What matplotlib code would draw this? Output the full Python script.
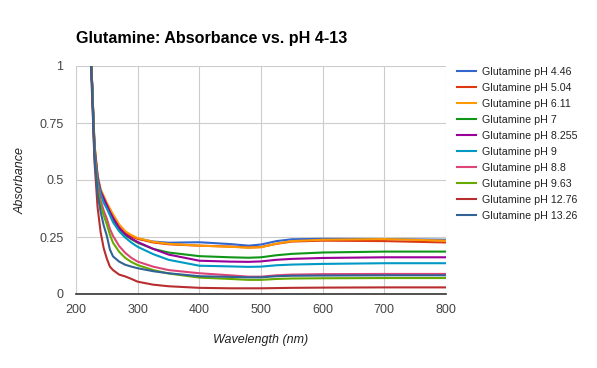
import numpy as np
from matplotlib import pyplot as plt

plt.rcParams['font.family'] = ['Liberation Sans', 'DejaVu Sans']

# wavelength grid (nm) the curves were read at
wl = [220, 225, 230, 235, 240, 245, 250, 255, 260, 270, 280, 290, 300, 325, 350,
      400, 450, 480, 500, 525, 550, 600, 700, 800]

labels = ['Glutamine pH 4.46', 'Glutamine pH 5.04', 'Glutamine pH 6.11', 'Glutamine pH 7',
          'Glutamine pH 8.255', 'Glutamine pH 9', 'Glutamine pH 8.8', 'Glutamine pH 9.63',
          'Glutamine pH 12.76', 'Glutamine pH 13.26']

ph446 = [1.3, 1.0, 0.65, 0.52, 0.45, 0.42, 0.39, 0.365, 0.34, 0.30, 0.27, 0.255, 0.243, 0.230, 0.225,
         0.227, 0.219, 0.212, 0.217, 0.232, 0.240, 0.242, 0.241, 0.238]
ph504 = [1.3, 1.0, 0.65, 0.51, 0.44, 0.41, 0.38, 0.355, 0.33, 0.295, 0.268, 0.252, 0.242, 0.226, 0.218,
         0.212, 0.208, 0.204, 0.206, 0.220, 0.230, 0.234, 0.232, 0.226]
ph611 = [1.3, 1.0, 0.66, 0.52, 0.46, 0.43, 0.40, 0.375, 0.35, 0.305, 0.275, 0.258, 0.245, 0.229, 0.220,
         0.212, 0.207, 0.203, 0.205, 0.221, 0.232, 0.238, 0.241, 0.234]
ph7 = [1.3, 1.0, 0.63, 0.50, 0.44, 0.41, 0.38, 0.35, 0.325, 0.285, 0.258, 0.240, 0.225, 0.198, 0.182,
       0.166, 0.161, 0.159, 0.161, 0.170, 0.176, 0.182, 0.186, 0.186]
ph8255 = [1.3, 1.0, 0.64, 0.51, 0.45, 0.42, 0.39, 0.36, 0.335, 0.29, 0.262, 0.243, 0.228, 0.198, 0.173,
          0.146, 0.142, 0.141, 0.143, 0.150, 0.154, 0.158, 0.161, 0.161]
ph9 = [1.3, 1.0, 0.63, 0.50, 0.44, 0.40, 0.375, 0.345, 0.315, 0.275, 0.247, 0.225, 0.207, 0.175, 0.150,
       0.124, 0.121, 0.119, 0.120, 0.126, 0.129, 0.132, 0.135, 0.135]
ph88 = [1.3, 1.0, 0.62, 0.48, 0.41, 0.365, 0.33, 0.285, 0.255, 0.21, 0.18, 0.158, 0.142, 0.120, 0.105,
        0.091, 0.082, 0.076, 0.076, 0.082, 0.085, 0.087, 0.088, 0.088]
ph963 = [1.3, 1.0, 0.61, 0.46, 0.39, 0.345, 0.305, 0.26, 0.225, 0.185, 0.158, 0.140, 0.127, 0.105, 0.090,
         0.072, 0.066, 0.062, 0.062, 0.066, 0.068, 0.069, 0.070, 0.070]
ph1276 = [1.3, 0.95, 0.58, 0.38, 0.27, 0.20, 0.155, 0.12, 0.105, 0.085, 0.077, 0.066, 0.054, 0.041, 0.034,
          0.027, 0.025, 0.025, 0.025, 0.026, 0.027, 0.028, 0.029, 0.029]
ph1326 = [1.3, 0.98, 0.60, 0.44, 0.36, 0.30, 0.255, 0.195, 0.165, 0.142, 0.128, 0.120, 0.113, 0.100, 0.091,
          0.078, 0.075, 0.073, 0.073, 0.078, 0.080, 0.081, 0.082, 0.082]

series = [ph446, ph504, ph611, ph7, ph8255, ph9, ph88, ph963, ph1276, ph1326]
colors = ['#3366cc', '#dc3912', '#ff9900', '#109618', '#990099',
          '#0099c6', '#dd4477', '#66aa00', '#b82e2e', '#316395']

fig = plt.figure(figsize=(5.97, 3.68), dpi=100)
ax = fig.add_axes([76/597, 1-294/368, 370/597, 228/368])

for vals, c, lab in zip(series, colors, labels):
    ax.plot(wl, vals, color=c, lw=1.5, label=lab)

ax.set_xlim(200, 800)
ax.set_ylim(0, 1)
ax.set_xticks(range(200, 801, 100))
ax.set_yticks([0, 0.25, 0.5, 0.75, 1])
ax.set_yticklabels(['0', '0.25', '0.5', '0.75', '1'])
ax.grid(True, color='#cccccc', lw=0.8)
ax.set_axisbelow(True)
for s in ['top', 'right', 'left']:
    ax.spines[s].set_visible(False)
ax.spines['bottom'].set_color('#333333')
ax.spines['bottom'].set_linewidth(1.2)
ax.spines['bottom'].set_zorder(5)
ax.tick_params(length=0, labelsize=9, labelcolor='#444444', pad=7)
ax.tick_params(axis='y', pad=9)

ax.set_xlabel('Wavelength (nm)', fontstyle='italic', fontsize=9, color='#222222', labelpad=13)
ax.set_ylabel('Absorbance', fontstyle='italic', fontsize=9, color='#222222', labelpad=9)

fig.text(76/597, 1-38/368, 'Glutamine: Absorbance vs. pH 4-13', fontsize=11.6,
         fontweight='bold', va='center', ha='left')

fig.legend(loc='upper left', bbox_to_anchor=(457/597, 1-67/368), frameon=False,
           fontsize=7.7, handlelength=1.75, handletextpad=0.58, labelspacing=0.56,
           borderaxespad=0, borderpad=0, labelcolor='#222222')

fig.savefig('out.png', dpi=100)
